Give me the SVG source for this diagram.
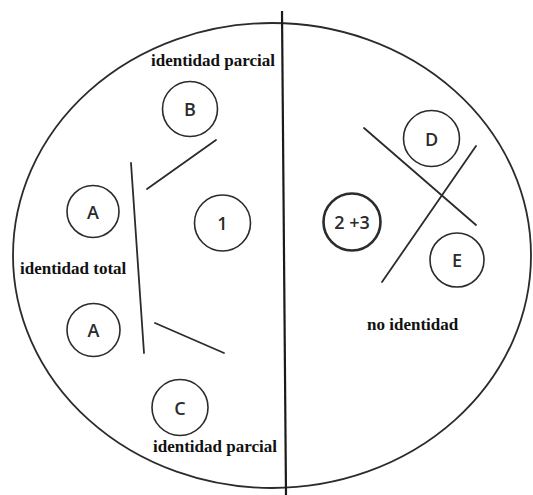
<svg xmlns="http://www.w3.org/2000/svg" width="533" height="495" viewBox="0 0 533 495">
<style>
.node circle{fill:none;stroke:#2b2b2b;stroke-width:1.6}
.node text{font-family:"Open Sans","Liberation Sans",sans-serif;font-size:18px;font-weight:600;fill:#2b2b2b;text-anchor:middle;dominant-baseline:central}
.lbl{font-family:"Liberation Serif","Times New Roman",serif;font-weight:bold;font-size:17px;fill:#111}
.conn line{stroke:#2b2b2b;stroke-width:1.8;stroke-linecap:round}
</style>
<rect width="533" height="495" fill="#fff"/>
<ellipse cx="272" cy="255.5" rx="259" ry="232.5" fill="none" stroke="#2b2b2b" stroke-width="1.8"/>
<line x1="282" y1="11" x2="286" y2="495" stroke="#1a1a1a" stroke-width="2.2"/>
<g class="conn">
<line x1="216" y1="140" x2="147" y2="189"/>
<line x1="131" y1="163" x2="144" y2="353"/>
<line x1="155" y1="323" x2="224" y2="353"/>
<line x1="364" y1="128" x2="476" y2="225"/>
<line x1="476" y1="146" x2="382" y2="282"/>
</g>
<g id="B" class="node"><circle cx="190" cy="109" r="27.5"/><text x="190" y="109">B</text></g>
<g id="A1" class="node"><circle cx="93" cy="211.5" r="26"/><text x="93" y="211.5">A</text></g>
<g id="n1" class="node"><circle cx="222.5" cy="223" r="28"/><text x="222.5" y="223">1</text></g>
<g id="A2" class="node"><circle cx="93.5" cy="330" r="26.5"/><text x="93.5" y="330">A</text></g>
<g id="C" class="node"><circle cx="180" cy="407.5" r="28"/><text x="180" y="407.5">C</text></g>
<g id="n23" class="node"><circle cx="352" cy="222" r="28.5" style="stroke-width:2.6"/><text x="352" y="222">2 +3</text></g>
<g id="D" class="node"><circle cx="431.5" cy="138.5" r="28"/><text x="431.5" y="138.5">D</text></g>
<g id="E" class="node"><circle cx="457" cy="260" r="27"/><text x="457" y="260">E</text></g>
<text class="lbl" x="151" y="66">identidad parcial</text>
<text class="lbl" x="20" y="274">identidad total</text>
<text class="lbl" x="153" y="452">identidad parcial</text>
<text class="lbl" x="367" y="330">no identidad</text>
</svg>
